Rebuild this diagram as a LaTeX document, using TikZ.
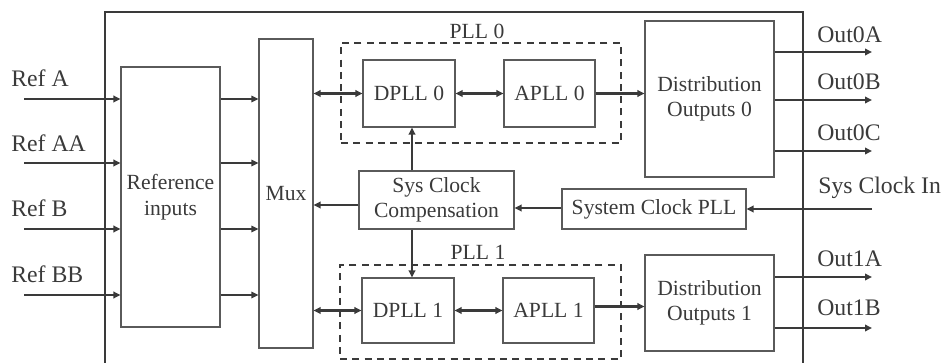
\documentclass[tikz,border=0pt]{standalone}
\usepackage{fontspec}
\setmainfont{Liberation Serif}
\usetikzlibrary{arrows.meta, calc}

\definecolor{ink}{HTML}{3A3A3A}
\definecolor{edge}{HTML}{5A5A5A}

\begin{document}
\begin{tikzpicture}[x=0.2mm, y=-0.2mm, >={Triangle[length=1.4mm, width=1.3mm]}]
\tikzset{
  block/.style={draw=edge, line width=0.6pt, align=center, inner sep=0pt,
                text=ink, font=\fontsize{12.3}{14.5}\selectfont},
  group/.style={draw=ink, dashed, line width=0.9pt, inner sep=0pt,
                dash pattern=on 4pt off 3pt},
  sig/.style={draw=ink, line width=1.2pt},
  thin/.style={draw=ink, line width=0.8pt},
  pin/.style={text=ink, inner sep=0pt, anchor=west,
              font=\fontsize{13.5}{15}\selectfont}
  };

\useasboundingbox (0,0) rectangle (948,363);

% chip outline, runs off the bottom
\draw[ink, line width=1.3pt] (105,363) -- (105,12) -- (803,12) -- (803,363);

\node[block, minimum width=19.8mm, minimum height=52mm] (refin) at (170.5,197) {Reference\\inputs};
\node[block, minimum width=10.8mm, minimum height=61.8mm] (mux)   at (286,193.5) {Mux};

\node[group, minimum width=56mm, minimum height=20mm]   (pll0) at (481,93)  {};
\node[group, minimum width=56.2mm, minimum height=18.8mm] (pll1) at (480.5,312) {};
\node[text=ink, font=\fontsize{12.3}{14}\selectfont] (pll0lbl) at (477,31)  {PLL 0};
\node[text=ink, font=\fontsize{12.3}{14}\selectfont] (pll1lbl) at (478,252) {PLL 1};

\node[block, minimum width=18.4mm, minimum height=13.4mm] (dpll0) at (409,93.5)   {DPLL 0};
\node[block, minimum width=18.2mm, minimum height=13.4mm] (apll0) at (549.5,93.5) {APLL 0};
\node[block, minimum width=18.4mm, minimum height=13mm]   (dpll1) at (408,310.5)  {DPLL 1};
\node[block, minimum width=18.2mm, minimum height=13mm]   (apll1) at (548.5,310.5) {APLL 1};

\node[block, minimum width=25.8mm, minimum height=31.2mm] (dist0) at (709.5,99)  {Distribution\\Outputs 0};
\node[block, minimum width=25.8mm, minimum height=19.2mm] (dist1) at (709.5,303) {Distribution\\Outputs 1};

\node[block, minimum width=31mm, minimum height=11.6mm] (scc)   at (436.5,200) {Sys Clock\\Compensation};
\node[block, minimum width=36.8mm, minimum height=8mm]  (scpll) at (654,209)   {System Clock PLL};

% reference pins
\coordinate (ina) at (24,99);
\coordinate (inaa) at (24,163);
\coordinate (inb) at (24,229);
\coordinate (inbb) at (24,295);
\node[pin] (inalbl)  at (11,78)  {Ref A};
\node[pin] (inaalbl) at (11,143) {Ref AA};
\node[pin] (inblbl)  at (11,208) {Ref B};
\node[pin] (inbblbl) at (11,274) {Ref BB};

\foreach \p in {ina, inaa, inb, inbb} {
  \draw[sig, ->] (\p) -- (refin.west |- \p);
  \draw[thin, ->] (refin.east |- \p) -- (mux.west |- \p);
}

% output pins
\coordinate (o0a) at (872,52);
\coordinate (o0b) at (872,100);
\coordinate (o0c) at (872,151);
\coordinate (o1a) at (872,277);
\coordinate (o1b) at (872,328);
\coordinate (sysin) at (872,209);
\node[pin] (o0albl) at (817,35)  {Out0A};
\node[pin] (o0blbl) at (817,82)  {Out0B};
\node[pin] (o0clbl) at (817,133) {Out0C};
\node[pin] (o1albl) at (817,259) {Out1A};
\node[pin] (o1blbl) at (817,308) {Out1B};
\node[pin] (sysinlbl) at (818,188) {Sys Clock In};

\foreach \p in {o0a, o0b, o0c} \draw[sig, ->] (dist0.east |- \p) -- (\p);
\foreach \p in {o1a, o1b} \draw[sig, ->] (dist1.east |- \p) -- (\p);

% PLL paths
\draw[sig, <->] (mux.east |- dpll0) -- (dpll0);
\draw[sig, <->] (dpll0) -- (apll0);
\draw[sig, ->] (apll0) -- (dist0.west |- apll0);
\draw[sig, <->] (mux.east |- dpll1) -- (dpll1);
\draw[sig, <->] (dpll1) -- (apll1);
\draw[sig, ->] ($(apll1.east)+(0,-4)$) -- (dist1.west |- 0,306.5);

% system clock
\draw[sig, ->] (sysin) -- (scpll);
\draw[sig, ->] (scpll.west |- 0,208) -- (scc.east |- 0,208);
\draw[sig, ->] (scc.west |- 0,205) -- (mux.east |- 0,205);
\draw[sig, ->] (scc.north -| 412,0) -- (dpll0.south -| 412,0);
\draw[sig, ->] (scc.south -| 412,0) -- (dpll1.north -| 412,0);

\end{tikzpicture}
\end{document}
